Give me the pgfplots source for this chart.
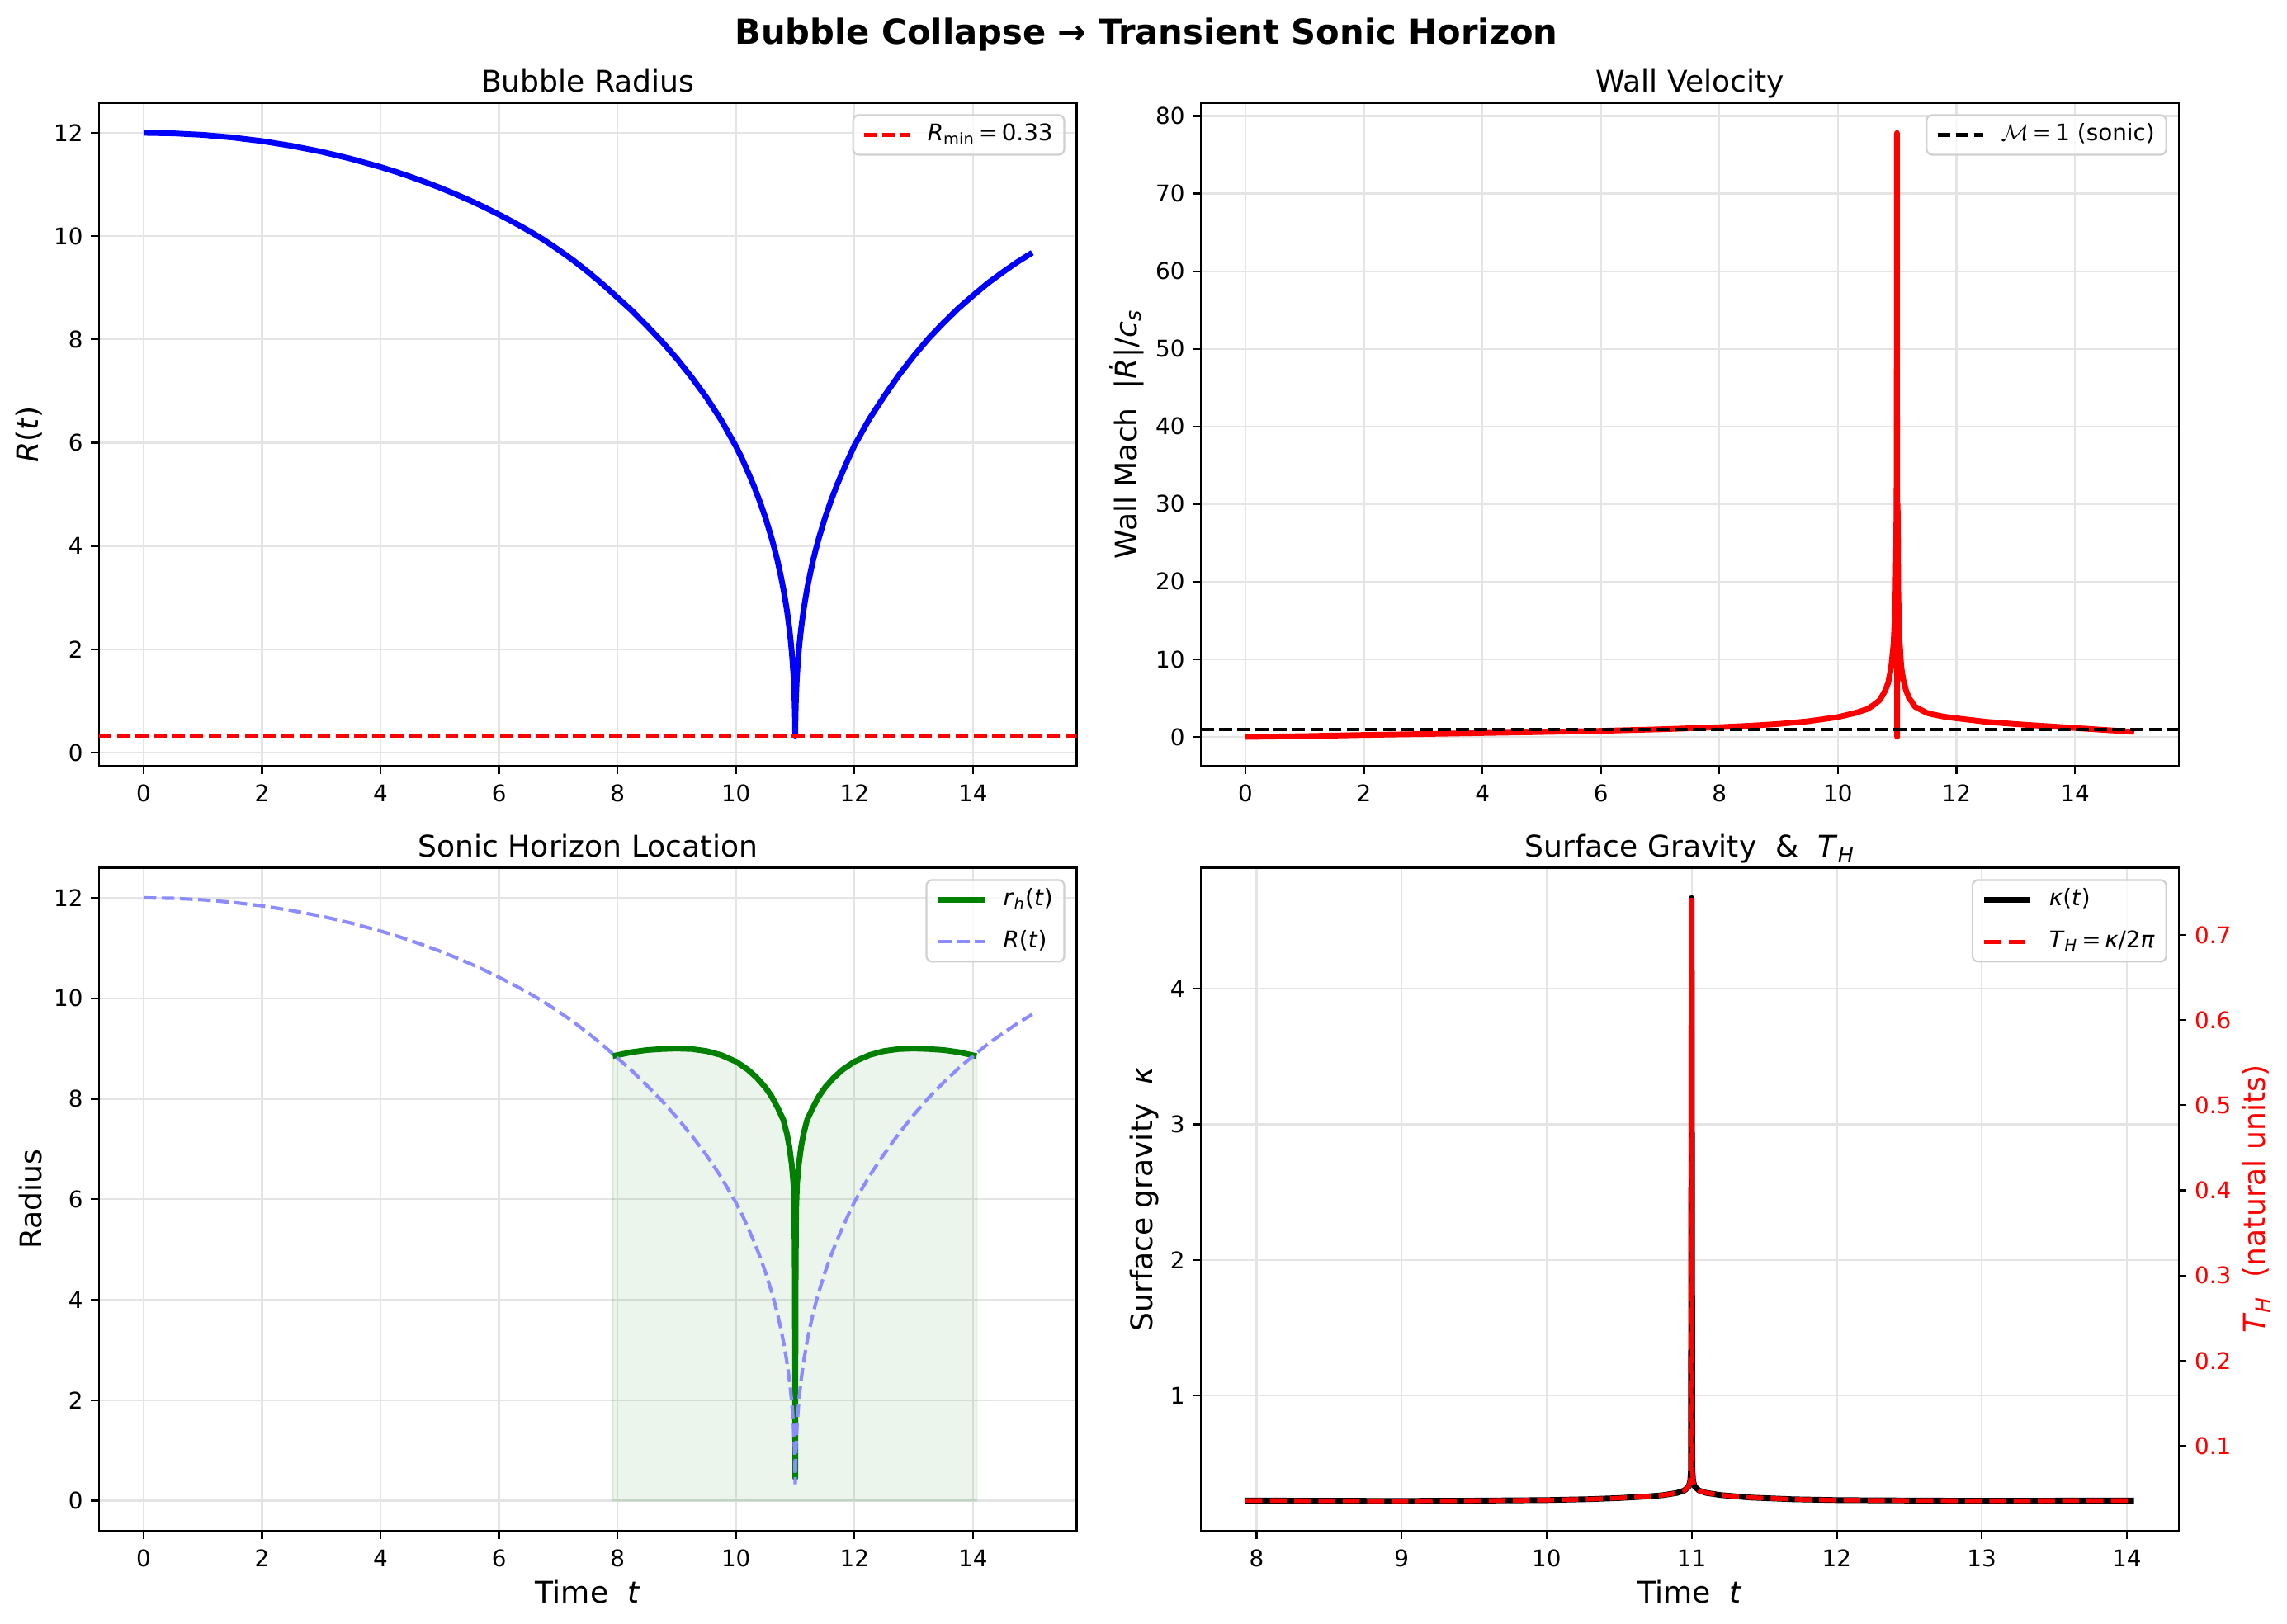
\documentclass[border=0pt]{standalone}
\usepackage{fontspec}
\setmainfont{DejaVu Sans}
\usepackage{pgfplots}
\pgfplotsset{compat=1.18}
\definecolor{mplgreen}{RGB}{0,128,0}
\definecolor{gridc}{RGB}{228,228,228}
\definecolor{lightblue}{RGB}{140,140,255}
\definecolor{legframe}{RGB}{208,208,208}

\pgfplotstableread{
t R
0 12.000
0.5 11.990
1 11.960
1.5 11.910
2 11.840
2.5 11.748
3 11.635
3.5 11.498
4 11.338
4.25 11.249
4.5 11.152
4.75 11.049
5 10.939
5.25 10.821
5.5 10.696
5.75 10.562
6 10.419
6.25 10.267
6.5 10.106
6.75 9.933
7 9.740
7.25 9.535
7.5 9.310
7.75 9.070
8 8.810
8.25 8.550
8.5 8.260
8.75 7.960
9 7.630
9.25 7.270
9.5 6.880
9.75 6.440
10 5.930
10.1 5.700
10.2 5.440
10.3 5.170
10.4 4.870
10.5 4.540
10.6 4.160
10.65 3.950
10.7 3.720
10.75 3.460
10.8 3.170
10.85 2.830
10.875 2.635
10.9 2.410
10.92 2.206
10.94 1.970
10.955 1.754
10.97 1.490
10.98 1.268
10.99 0.960
10.995 0.729
10.997 0.590
11 0.330
11.003 0.590
11.005 0.729
11.01 0.960
11.02 1.268
11.03 1.490
11.045 1.754
11.06 1.970
11.08 2.206
11.1 2.410
11.125 2.635
11.15 2.830
11.2 3.170
11.25 3.460
11.3 3.720
11.35 3.950
11.4 4.160
11.5 4.540
11.6 4.870
11.7 5.170
11.8 5.440
11.9 5.700
12 5.950
12.25 6.460
12.5 6.900
12.75 7.310
13 7.680
13.25 8.020
13.5 8.320
13.75 8.600
14 8.850
14.25 9.090
14.5 9.300
14.75 9.500
15 9.680
}\Rdata

\pgfplotstableread{
t M
0 0.00
1 0.10
2 0.25
3 0.37
4 0.50
5 0.63
6 0.78
7 0.98
8 1.25
8.5 1.43
9 1.67
9.5 2.02
10 2.56
10.3 3.10
10.5 3.60
10.6 4.10
10.7 4.70
10.75 5.30
10.8 6.00
10.85 7.00
10.9 9.00
10.94 12.00
10.97 17.00
10.985 25.00
10.993 35.00
10.997 77.80
11.0 0.00
11.008 30.00
11.02 18.00
11.04 12.50
11.07 9.00
11.1 7.50
11.15 6.00
11.2 5.00
11.25 4.50
11.3 3.90
11.4 3.50
11.5 3.10
11.6 2.90
11.8 2.60
12 2.40
12.5 1.95
13 1.65
13.5 1.40
14 1.15
14.5 0.90
15 0.65
}\Mdata

\pgfplotstableread{
t rh
7.92 8.85
8.25 8.93
8.5 8.97
8.75 8.99
9.0 9.00
9.25 8.99
9.5 8.95
9.75 8.87
10.0 8.74
10.2 8.58
10.35 8.42
10.5 8.22
10.6 8.05
10.7 7.83
10.8 7.58
10.86 7.30
10.9 7.05
10.94 6.70
10.97 6.30
10.985 5.80
10.993 4.50
10.997 2.80
11.0 0.45
11.003 2.80
11.007 4.50
11.015 5.80
11.03 6.30
11.06 6.70
11.1 7.05
11.14 7.30
11.2 7.58
11.3 7.83
11.4 8.05
11.5 8.22
11.65 8.42
11.8 8.58
12.0 8.74
12.25 8.87
12.5 8.95
12.75 8.99
13.0 9.00
13.25 8.99
13.5 8.97
13.75 8.93
14.06 8.85
}\RHdata

\pgfplotstableread{
t kappa
7.924 0.226
8.5 0.224
9 0.223
9.5 0.225
10 0.229
10.3 0.236
10.5 0.244
10.7 0.256
10.8 0.265
10.9 0.282
10.95 0.300
10.98 0.330
10.99 0.370
10.995 0.450
11.0 4.670
11.005 0.450
11.01 0.370
11.02 0.330
11.05 0.300
11.1 0.282
11.2 0.266
11.4 0.248
11.7 0.235
12 0.229
12.5 0.226
13 0.224
13.5 0.225
14.05 0.226
}\Kdata

\pgfplotstableread{
t TH
7.924 0.03597
8.5 0.03565
9 0.03549
9.5 0.03581
10 0.03645
10.3 0.03756
10.5 0.03883
10.7 0.04074
10.8 0.04218
10.9 0.04488
10.95 0.04775
10.98 0.05252
10.99 0.05889
10.995 0.07162
11.0 0.74325
11.005 0.07162
11.01 0.05889
11.02 0.05252
11.05 0.04775
11.1 0.04488
11.2 0.04234
11.4 0.03947
11.7 0.03740
12 0.03645
12.5 0.03597
13 0.03565
13.5 0.03581
14.05 0.03597
}\THdata

\pgfplotsset{
 mpl/.style={
  scale only axis, width=426.4pt, height=289.3pt, anchor=south west,
  axis line style={line width=0.8pt},
  tick align=outside, major tick length=3.5pt,
  every tick/.style={black, line width=0.8pt},
  xtick pos=left, ytick pos=left,
  grid=major, major grid style={gridc, line width=0.8pt},
  ticklabel style={font=\fontsize{10}{12}\selectfont},
  xticklabel style={yshift=-1.2pt},
  /pgf/number format/assume math mode=true,
  title style={font=\fontsize{13}{15.6}\selectfont, at={(0.5,1)}, anchor=base, yshift=-1.2pt},
  xlabel style={font=\fontsize{13}{15.6}\selectfont, at={(axis description cs:0.5,0)}, anchor=base, yshift=-31.3pt},
  ylabel style={font=\fontsize{13}{15.6}\selectfont, inner sep=1.5pt},
  legend style={at={(1,1)}, anchor=north east, xshift=-5pt, yshift=-5pt,
     draw=legframe, line width=0.8pt, rounded corners=2.5pt, fill=white, fill opacity=0.8, text opacity=1, draw opacity=1,
     font=\fontsize{10}{12}\selectfont, inner xsep=4pt, inner ysep=2.65pt, row sep=6.3pt, column sep=6pt,
     nodes={inner sep=1pt, text height=7.5pt, text depth=2.5pt}},
  legend cell align=left,
  legend image code/.code={\draw[##1] (0pt,0pt) -- (20pt,0pt);},
 }
}

\begin{document}
\begin{tikzpicture}
\useasboundingbox (0,0) rectangle (997.5pt,708.4pt);

\node[font=\bfseries\fontsize{15}{18}\selectfont, anchor=base] at (500pt,689.3pt) {Bubble Collapse → Transient Sonic Horizon};

% Top-left: Bubble radius
\begin{axis}[mpl, at={(43.2pt,374.3pt)},
  xmin=-0.75, xmax=15.75, ymin=-0.2535, ymax=12.5835,
  xtick={0,2,...,14}, ytick={0,2,...,12},
  title={Bubble Radius},
  ylabel={\textit{R}(\textit{t})}]
\addplot[blue, line width=2.5pt, line join=round, forget plot] table[x=t,y=R] {\Rdata};
\addplot[red, line width=1.5pt, dash pattern=on 5.55pt off 2.4pt] coordinates {(-0.75,0.33) (15.75,0.33)};
\addlegendentry{\textit{R}\textsubscript{min}\,=\,0.33}
\end{axis}

% Top-right: Wall velocity
\begin{axis}[mpl, at={(523.8pt,374.3pt)},
  xmin=-0.75, xmax=15.75, ymin=-3.73, ymax=81.71,
  xtick={0,2,...,14}, ytick={0,10,...,80},
  title={Wall Velocity},
  ylabel={Wall Mach\ \ |\textit{Ṙ}|/\textit{c}\textsubscript{\textit{s}}}]
\addplot[red, line width=2.5pt, line join=round, forget plot] table[x=t,y=M] {\Mdata};
\addplot[black, line width=1.5pt, dash pattern=on 5.55pt off 2.4pt] coordinates {(-0.75,1) (15.75,1)};
\addlegendentry{$\mathcal{M}$\,=\,1 (sonic)}
\end{axis}

% Bottom-left: sonic horizon
\begin{axis}[mpl, at={(43.2pt,40.6pt)},
  xmin=-0.75, xmax=15.75, ymin=-0.6, ymax=12.6,
  xtick={0,2,...,14}, ytick={0,2,...,12},
  title={Sonic Horizon Location},
  xlabel={Time\ \ \textit{t}},
  ylabel={Radius}]
\addplot[fill=mplgreen, fill opacity=0.08, draw=mplgreen, draw opacity=0.1, line width=0.8pt, forget plot] table[x=t,y=rh] {\RHdata} \closedcycle;
\addplot[mplgreen, line width=2.5pt, line join=round] table[x=t,y=rh] {\RHdata};
\addlegendentry{\textit{r}\textsubscript{\textit{h}}(\textit{t})}
\addplot[lightblue, line width=1.5pt, dash pattern=on 5.55pt off 2.4pt] table[x=t,y=R] {\Rdata};
\addlegendentry{\textit{R}(\textit{t})}
\end{axis}

% Bottom-right: surface gravity
\begin{axis}[mpl, at={(523.8pt,40.6pt)},
  xmin=7.617, xmax=14.357, ymin=0.002, ymax=4.894,
  xtick={8,...,14}, ytick={1,2,3,4},
  title={Surface Gravity\ \ \&\ \ \textit{T}\textsubscript{\textit{H}}},
  xlabel={Time\ \ \textit{t}},
  ylabel={Surface gravity\ \ \textit{κ}}]
\addplot[black, line width=2.5pt, line join=round] table[x=t,y=kappa] {\Kdata};
\end{axis}
\begin{axis}[mpl, at={(523.8pt,40.6pt)},
  xmin=7.617, xmax=14.357, ymin=0.000318, ymax=0.7789,
  axis x line=none, axis y line*=right, ytick pos=right, grid=none,
  ytick={0.1,0.2,0.3,0.4,0.5,0.6,0.7},
  yticklabel style={red, /pgf/number format/.cd, fixed, precision=1},
  ylabel style={red},
  ylabel={\textit{T}\textsubscript{\textit{H}}\ \ (natural units)}]
\addlegendimage{black, line width=2.5pt}
\addlegendentry{\textit{κ}(\textit{t})}
\addplot[red, line width=2pt, dash pattern=on 7.4pt off 3.2pt] table[x=t,y=TH] {\THdata};
\addlegendentry{\textit{T}\textsubscript{\textit{H}}\,=\,\textit{κ}/2\textit{π}}
\end{axis}
\end{tikzpicture}
\end{document}
